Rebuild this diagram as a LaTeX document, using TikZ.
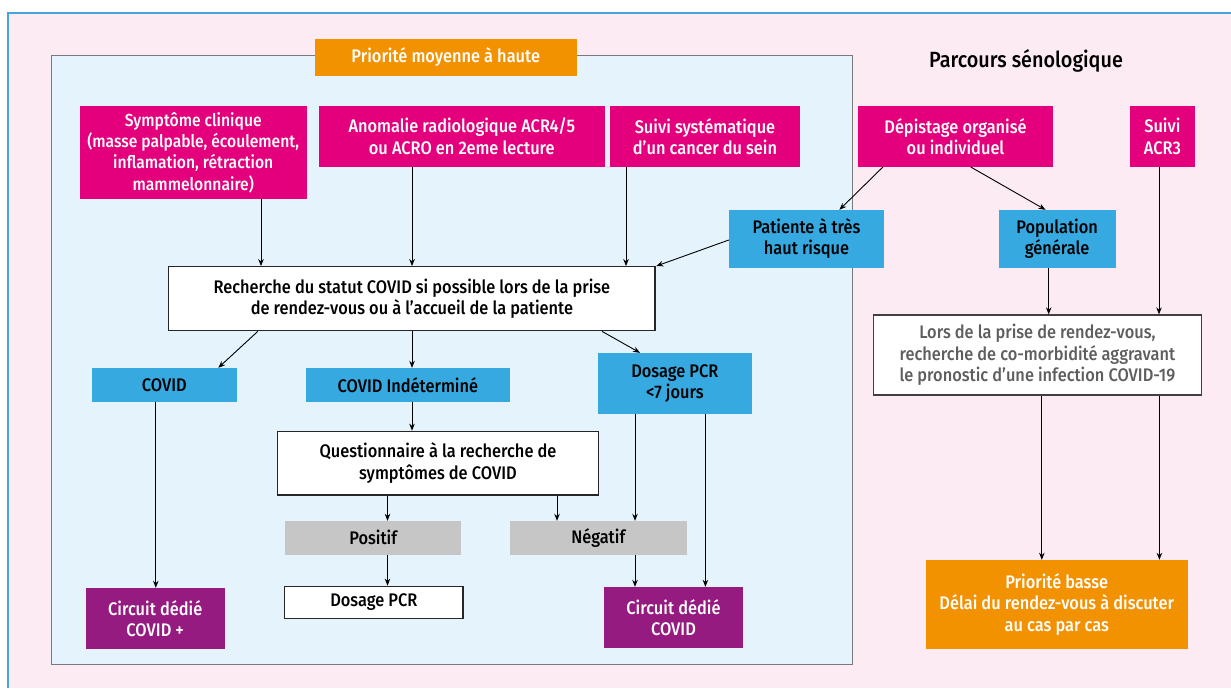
\documentclass[tikz,border=0pt]{standalone}
\usepackage{fontspec}
\setmainfont{Fira Sans Medium}[FakeStretch=0.9]
\usetikzlibrary{arrows.meta,calc}
\definecolor{cMag}{HTML}{E4007C}
\definecolor{cBlue}{HTML}{36A9E1}
\definecolor{cOrange}{HTML}{F39200}
\definecolor{cPurple}{HTML}{951B81}
\definecolor{cGray}{HTML}{C6C6C6}
\definecolor{cZone}{HTML}{E4F3FC}
\definecolor{cPink}{HTML}{FCEBF3}
\definecolor{cFrame}{HTML}{4BA3DD}
\definecolor{cZoneLine}{HTML}{7A7A7A}
\definecolor{cLors}{HTML}{5E5E5E}
\begin{document}
\begin{tikzpicture}[x=1pt,y=-1pt,
  box/.style={rectangle, inner sep=0pt, align=center, font=\fontsize{18.2}{21.3}\selectfont},
  mag/.style={box, fill=cMag, text=white},
  blu/.style={box, fill=cBlue, text=black},
  org/.style={box, fill=cOrange, text=white},
  pur/.style={box, fill=cPurple, text=white},
  gry/.style={box, fill=cGray, text=black},
  wht/.style={box, fill=white, draw=black!85, line width=1.3pt, text=black},
  sz/.style 2 args={minimum width=#1pt, minimum height=#2pt},
  arr/.style={line width=0.9pt, -{Stealth[length=7pt,width=5.5pt]}},
]
\useasboundingbox (0,0) rectangle (1231,688);
\fill[white] (0,0) rectangle (1231,688);
\fill[cPink] (8,13) rectangle (1231,688);
\draw[cFrame, line width=1.6pt] (8,688) -- (8,13) -- (1231,13);

\node[draw=cZoneLine, fill=cZone, line width=1.2pt, inner sep=0pt, sz={801.3}{608.6}] (zone) at (452.05,360) {};

\node[org, sz={261.5}{36.7}] (prio) at (445.75,57.3) {Priorité moyenne à haute};
\node[box, text=black, font=\fontsize{22}{26}\selectfont] (parc) at (1026,61) {Parcours sénologique};

\node[mag, sz={226.5}{93}, font=\fontsize{17.4}{21.3}\selectfont] (sympt) at (193.25,152.5) {Symptôme clinique\\(masse palpable, écoulement,\\inflamation, rétraction\\mammelonnaire)};
\node[mag, sz={285.6}{60.7}] (anom) at (461.8,136.35) {Anomalie radiologique ACR4/5\\ou ACRO en 2eme lecture};
\node[mag, sz={190}{60.7}] (suivi) at (705,136.35) {Suivi systématique\\d’un cancer du sein};
\node[mag, sz={195}{60.7}] (depist) at (955.5,136.35) {Dépistage organisé\\ou individuel};
\node[mag, sz={64.8}{60.7}] (acr3) at (1162.4,136.35) {Suivi\\ACR3};

\node[blu, sz={155}{57.7}] (pat) at (806.5,238.85) {Patiente à très\\haut risque};
\node[blu, sz={116.7}{57.7}] (popu) at (1057.15,238.85) {Population\\générale};

\node[wht, sz={486.2}{64}] (rech) at (411.9,298.7) {Recherche du statut COVID si possible lors de la prise\\de rendez-vous ou à l’accueil de la patiente};

\node[blu, sz={144.5}{33.7}] (covid) at (164.25,384.85) {COVID};
\node[blu, sz={203.7}{33.7}] (covind) at (407.85,384.85) {COVID Indéterminé};
\node[blu, sz={153.7}{60.7}] (pcr7) at (674.85,383.35) {Dosage PCR\\<7 jours};

\node[wht, sz={320.7}{63.7}] (quest) at (437.95,463.15) {Questionnaire à la recherche de\\symptômes de COVID};
\node[gry, sz={176.4}{33.7}] (pos) at (373.2,537.85) {Positif};
\node[gry, sz={176.5}{33.7}] (neg) at (598.25,537.85) {Négatif};
\node[wht, sz={178.3}{32.4}] (dos) at (373.85,602.5) {Dosage PCR};

\node[pur, sz={138.8}{60.7}] (circ1) at (155.2,618.35) {Circuit dédié\\COVID +};
\node[pur, sz={138.9}{60.7}] (circ2) at (673.45,617.35) {Circuit dédié\\COVID};

\node[wht, draw=black!75, text=cLors, sz={327.6}{80}] (lors) at (1037.4,355) {Lors de la prise de rendez-vous,\\recherche de co-morbidité aggravant\\le pronostic d’une infection COVID-19};
\node[org, sz={261.5}{88.5}] (basse) at (1056.75,604.25) {Priorité basse\\Délai du rendez-vous à discuter\\au cas par cas};

% connectors
\draw[arr] (sympt.south -| 261,0) -- (rech.north -| 261,0);
\draw[arr] (anom.south -| 412,0) -- (rech.north -| 412,0);
\draw[arr] (suivi.south -| 626,0) -- (rech.north -| 626,0);
\draw[arr] (depist.south -| 883,0) -- (pat.north -| 839.4,0);
\draw[arr] (depist.south -| 970.6,0) -- (popu.north -| 1045.5,0);
\draw[arr] (pat.west |- 0,240) -- (rech.north -| 656.3,0);
\draw[arr] (rech.south -| 257.8,0) -- (covid.north -| 218.3,0);
\draw[arr] (rech.south -| 412,0) -- (covind.north -| 412,0);
\draw[arr] (rech.south -| 602,0) -- (pcr7.north -| 640,0);
\draw[arr] (covid.south -| 155.8,0) -- (circ1.north -| 155.8,0);
\draw[arr] (covind.south -| 412,0) -- (quest.north -| 412,0);
\draw[arr] (quest.south -| 387.5,0) -- (pos.north -| 387.5,0);
\draw[arr] (quest.south -| 557,0) -- (neg.north -| 557,0);
\draw[arr] (pos.south -| 387.5,0) -- (dos.north -| 387.5,0);
\draw[arr] (pcr7.south -| 635,0) -- (neg.north -| 635,0);
\draw[arr] (pcr7.south -| 705.4,0) -- (circ2.north -| 705.4,0);
\draw[arr] (neg.south -| 635,0) -- (circ2.north -| 635,0);
\draw[arr] (popu.south -| 1048.7,0) -- (lors.north -| 1048.7,0);
\draw[arr] (acr3.south -| 1159,0) -- (lors.north -| 1159,0);
\draw[arr] (lors.south -| 1041.8,0) -- (basse.north -| 1041.8,0);
\draw[arr] (lors.south -| 1159.4,0) -- (basse.north -| 1159.4,0);
\end{tikzpicture}
\end{document}
